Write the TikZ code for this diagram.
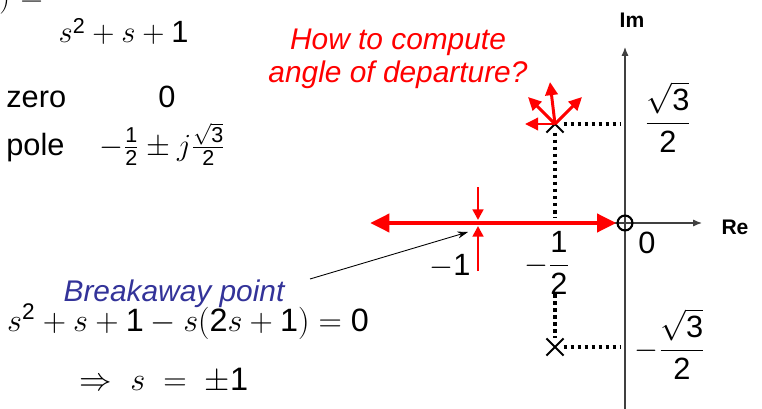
\RequirePackage{fix-cm}
\documentclass[tikz,border=0pt]{standalone}
\usepackage{amsmath}
\usepackage{fontspec}
\setmainfont{Liberation Sans}
\usepackage{xcolor}
\usepackage{tikz}
\usetikzlibrary{positioning,arrows.meta,shapes.misc}
\definecolor{locusred}{HTML}{FF0000}
\definecolor{noteblue}{HTML}{333399}
\definecolor{axisgray}{HTML}{404040}
\newcommand{\eqsize}{\fontsize{17.5}{21}\selectfont}
\newcommand{\dgt}[1]{\text{#1}}% sans digits inside math
\tikzset{
  every node/.style={inner sep=0pt, font=\eqsize},
  axis/.style={
    draw=axisgray, line width=0.7pt,
    -{Latex[length=5pt,width=4pt]}
  },
  axislabel/.style={font=\fontsize{12}{14}\selectfont\bfseries},
  polemark/.style={cross out, draw=black, line width=1.2pt, minimum size=8.5pt},
  zeromark/.style={circle, draw=black, line width=1.2pt, minimum size=8.5pt},
  guide/.style={line width=2.1pt, dash pattern=on 2.1pt off 1.9pt},
  locus/.style={draw=locusred, line width=2.8pt, -{Triangle[length=11pt,width=10pt]}},
  merge/.style={draw=locusred, line width=1.5pt, -{Triangle[length=6pt,width=6pt]}},
  depart/.style={draw=locusred, line width=1.7pt, -{Triangle[length=7.5pt,width=7pt]}},
  pointer/.style={draw=black, line width=0.5pt, -{Stealth[length=6pt,width=4pt]}},
  question/.style={text=locusred, align=center, font=\fontsize{17}{18.5}\selectfont\itshape},
  note/.style={text=noteblue, font=\fontsize{17}{19}\selectfont\itshape},
}
\begin{document}
\begin{tikzpicture}[x=0.02cm, y=-0.02cm]
  \useasboundingbox (0,0) rectangle (762,409);
  \clip (0,0) rectangle (762,409);

  % transfer function, zero and poles
  \node[anchor=base east] (tf) at (191,7)
    {$\displaystyle G(s)\hspace{1pt}=\hspace{3pt}\frac{s}{\rule{0pt}{22pt}s^{\dgt{2}}+s+\dgt{1}}$};
  \node[anchor=base west] (zlab) at (6,108) {zero};
  \node[anchor=base] (zval) at (167,108) {0};
  \node[anchor=base west] (plab) at (6,155) {pole};
  \node[anchor=base west] (pval) at (99,155)
    {$-\frac{\dgt{1}}{\dgt{2}}\pm j\frac{\sqrt{\dgt{3}}}{\dgt{2}}$};

  % s-plane
  \coordinate (reorg) at (405,223);
  \coordinate (retip) at (702,223);
  \coordinate (imorg) at (625,409);
  \coordinate (imtip) at (625,47);
  \draw[axis] (reorg) -- (retip);
  \draw[axis] (imorg) -- (imtip);
  \node[axislabel, anchor=base] (re) at (735,235) {Re};
  \node[axislabel, anchor=base] (im) at (632,28) {Im};

  \node[polemark] (p1) at (555,124) {};
  \node[polemark] (p2) at (555,347) {};
  \coordinate (p1im) at (620,124);
  \coordinate (p2im) at (620,347);
  \coordinate (p1re) at (555,218);
  \coordinate (p2re) at (555,294);
  \draw[guide] (p1) -- (p1im);
  \draw[guide] (p1) -- (p1re);
  \draw[guide] (p2re) -- (p2);
  \draw[guide] (p2) -- (p2im);

  % root locus on the real axis
  \coordinate (b) at (478,223);
  \coordinate (lefttip) at (370,223);
  \node[zeromark] (zero) at (625,223) {};
  \draw[locus] (b) -- (lefttip);
  \draw[locus] (b) -- (zero);
  \coordinate (btop) at (478,187);
  \coordinate (bbot) at (478,271);
  \coordinate (bin1) at (478,220);
  \coordinate (bin2) at (478,226);
  \draw[merge] (btop) -- (bin1);
  \draw[merge] (bbot) -- (bin2);

  % candidate departure directions
  \coordinate (d1) at (525,124);
  \coordinate (d2) at (528,97);
  \coordinate (d3) at (550,82);
  \coordinate (d4) at (582,97);
  \foreach \d in {d1,d2,d3,d4}
    \draw[depart] (p1.center) -- (\d);

  % axis values
  \node[anchor=base] (y1) at (668,131) {$\dfrac{\sqrt{\dgt{3}}}{\dgt{2}}$};
  \node[anchor=base] (y2) at (670,358) {$-\dfrac{\sqrt{\dgt{3}}}{\dgt{2}}$};
  \node[anchor=base] (xh) at (547,273) {$-\dfrac{\dgt{1}}{\dgt{2}}$};
  \node[anchor=base] (x1) at (450,275) {$-\dgt{1}$};
  \node (x0) at (647,243) {0};

  % annotations
  \node[question] (q) at (398,59) {How to compute\\angle of departure?};
  \node[note, anchor=base] (bk) at (174,301) {Breakaway point};
  \coordinate (bkfrom) at (310,279);
  \coordinate (bkto) at (468,232);
  \draw[pointer] (bkfrom) -- (bkto);
  \node[anchor=base, font=\fontsize{18.4}{22}\selectfont] (eq1) at (188,331)
    {$s^{\dgt{2}}+s+\dgt{1}-s(\dgt{2}s+\dgt{1})=\dgt{0}$};
  \node[anchor=base, font=\fontsize{18.5}{22}\selectfont] (eq2) at (164,390)
    {$\Rightarrow\;s\;=\;\pm\dgt{1}$};
\end{tikzpicture}
\end{document}
